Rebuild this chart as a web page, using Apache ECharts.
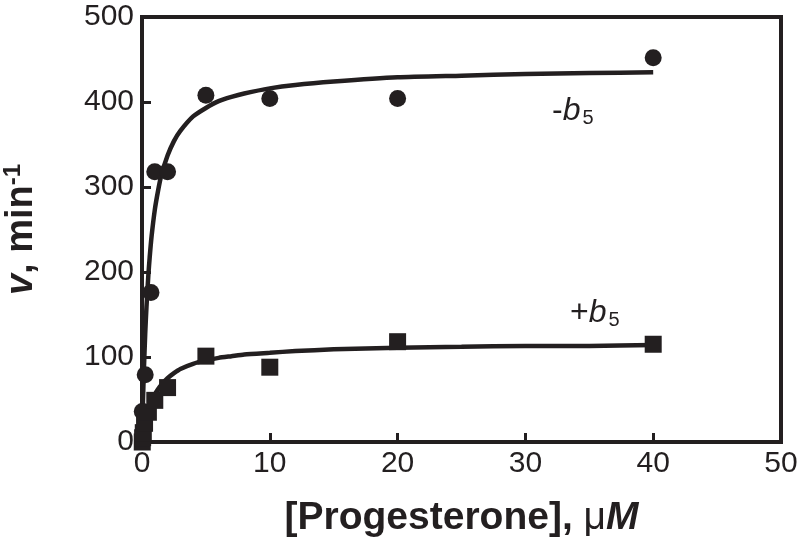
<!DOCTYPE html>
<html><head><meta charset="utf-8">
<script src="https://cdn.jsdelivr.net/npm/echarts@6/dist/echarts.min.js"></script>
<style>html,body{margin:0;padding:0;background:#fff}#c{width:800px;height:550px}</style>
</head><body><div id="c"></div>
<script>
// -b5 measured points
const minusB5X = [0.02, 0.25, 0.7, 1, 2, 5, 10, 20, 40];
const minusB5Y = [36, 79, 176, 318, 318, 408, 404, 404, 452];
// +b5 measured points
const plusB5X = [0.02, 0.05, 0.1, 0.2, 0.5, 1, 2, 5, 10, 20, 40];
const plusB5Y = [0, 5, 11, 22, 35, 49, 64, 101, 88, 118, 115];
// fitted curves
const curveX = [0, 0.05, 0.1, 0.15, 0.25, 0.35, 0.5, 0.6, 0.75, 1, 1.25, 1.5, 2, 2.5, 3, 4, 5, 6, 7, 8, 10, 12, 15, 20, 25, 30, 35, 40];
const minusFitY = [0, 33, 61, 86, 127, 159, 197, 217, 242, 273, 295, 313, 337, 354, 366, 383, 393, 401, 406, 410, 416, 420, 424, 429, 431, 433, 434, 435];
const plusFitY = [0, 5, 10, 14, 22, 28, 37, 41, 47, 56, 62, 67, 75, 81, 86, 92, 96, 99, 101, 103, 105, 107, 109, 111, 112, 113, 113, 114];
const xTicks = [0, 10, 20, 30, 40, 50];
const yTicks = [0, 100, 200, 300, 400, 500];

const zip = (a, b) => a.map((v, i) => [v, b[i]]);
const chart = echarts.init(document.getElementById('c'));
const font = "'Liberation Sans',Arial,Helvetica,sans-serif";
const ink = '#231f20';
chart.setOption({
  animation: false,
  grid: {left: 142, right: 19, top: 17, bottom: 108, show: true, borderColor: ink, borderWidth: 4, containLabel: false, outerBoundsMode: 'none'},
  xAxis: {
    type: 'value', min: xTicks[0], max: xTicks[xTicks.length - 1], interval: 10,
    axisLine: {show: true, onZero: false, lineStyle: {color: ink, width: 4}},
    axisTick: {show: true, inside: true, length: 9, lineStyle: {color: ink, width: 3}},
    splitLine: {show: false},
    axisLabel: {color: ink, fontSize: 30, fontFamily: font, margin: 7},
    name: '{b|[Progesterone], }{m|μ}{bi|M}', nameLocation: 'middle', nameGap: 57,
    nameTextStyle: {rich: {
      b: {fontSize: 39, fontWeight: 'bold', fontFamily: font, color: ink},
      m: {fontSize: 39, fontFamily: font, color: ink},
      bi: {fontSize: 39, fontWeight: 'bold', fontStyle: 'italic', fontFamily: font, color: ink}
    }}
  },
  yAxis: {
    type: 'value', min: yTicks[0], max: yTicks[yTicks.length - 1], interval: 100,
    axisLine: {show: true, onZero: false, lineStyle: {color: ink, width: 4}},
    axisTick: {show: true, inside: true, length: 9, lineStyle: {color: ink, width: 3}},
    splitLine: {show: false},
    axisLabel: {color: ink, fontSize: 30, fontFamily: font, margin: 8},
    name: '{bi|v}{b|, min}{s|-1}', nameLocation: 'middle', nameGap: 99, nameRotate: 90,
    nameTextStyle: {rich: {
      b: {fontSize: 38, fontWeight: 'bold', fontFamily: font, color: ink},
      bi: {fontSize: 38, fontWeight: 'bold', fontStyle: 'italic', fontFamily: font, color: ink},
      s: {fontSize: 24, fontWeight: 'bold', fontFamily: font, color: ink, verticalAlign: 'top', padding: [0, 0, 18, 0]}
    }}
  },
  series: [
    {type: 'line', data: zip(curveX, minusFitY), smooth: 0.2, showSymbol: false, lineStyle: {color: ink, width: 4.5}, z: 2},
    {type: 'line', data: zip(curveX, plusFitY), smooth: 0.2, showSymbol: false, lineStyle: {color: ink, width: 4.5}, z: 2},
    {type: 'scatter', data: zip(minusB5X, minusB5Y), symbol: 'circle', symbolSize: 17, itemStyle: {color: ink, opacity: 1}, z: 3},
    {type: 'scatter', data: zip(plusB5X, plusB5Y), symbol: 'rect', symbolSize: 17, itemStyle: {color: ink, opacity: 1}, z: 3}
  ],
  graphic: [
    {type: 'text', left: 552, top: 95, style: {
      text: '{n|-}{i|b}{s|5}',
      rich: {
        n: {fontSize: 32, fontFamily: font, fill: ink},
        i: {fontSize: 32, fontStyle: 'italic', fontFamily: font, fill: ink},
        s: {fontSize: 20, fontFamily: font, fill: ink, verticalAlign: 'bottom', padding: [14, 0, 0, 2]}
      }}},
    {type: 'text', left: 570, top: 297, style: {
      text: '{n|+}{i|b}{s|5}',
      rich: {
        n: {fontSize: 32, fontFamily: font, fill: ink},
        i: {fontSize: 32, fontStyle: 'italic', fontFamily: font, fill: ink},
        s: {fontSize: 20, fontFamily: font, fill: ink, verticalAlign: 'bottom', padding: [14, 0, 0, 2]}
      }}}
  ]
});
</script></body></html>
